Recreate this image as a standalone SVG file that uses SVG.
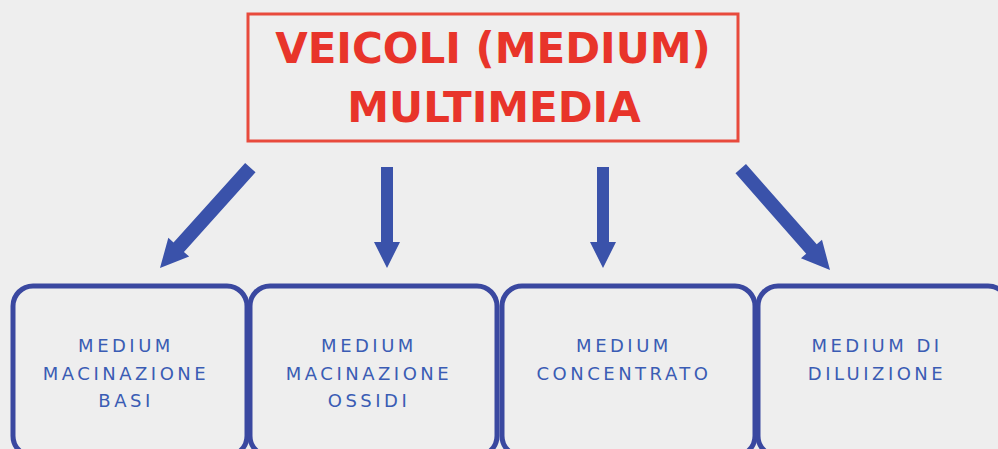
<svg xmlns="http://www.w3.org/2000/svg" width="998" height="449" viewBox="0 0 998 449">
  <style>
    .title { font-family: "DejaVu Sans", Verdana, sans-serif; font-weight: bold; font-size: 42px; fill: #e8342a; text-anchor: middle; }
    .box { fill: #eeeeee; stroke: #3a48a0; stroke-width: 5; }
    .label { font-family: "DejaVu Sans", sans-serif; font-size: 18px; fill: #3a5cb4; text-anchor: middle; letter-spacing: 3.5px; }
    .arrow { fill: #3a52aa; }
  </style>
  <defs>
    <!-- downward arrows, tip at origin, pointing +y -->
    <path id="arr" d="M -6 -101 L 6 -101 L 6 -26 L 13 -26 L 0 0 L -13 -26 L -6 -26 Z"/>
    <path id="arrLong" d="M -7 -135 L 7 -135 L 7 -28 L 14 -28 L 0 0 L -14 -28 L -7 -28 Z"/>
  </defs>
  <rect width="998" height="449" fill="#eeeeee"/>

  <g id="root">
    <rect x="248" y="14" width="490" height="127" fill="#eeeeee" stroke="#e84a3c" stroke-width="3"/>
    <text class="title" x="493" y="63">VEICOLI (MEDIUM)</text>
    <text class="title" x="494" y="122">MULTIMEDIA</text>
  </g>

  <g id="connectors" class="arrow">
    <use href="#arrLong" transform="translate(160,268) rotate(42)"/>
    <use href="#arr" transform="translate(387,268)"/>
    <use href="#arr" transform="translate(603,268)"/>
    <use href="#arrLong" transform="translate(830,270) rotate(-41.4)"/>
  </g>

  <g id="basi">
    <rect class="box" x="13" y="286" width="234" height="170" rx="20"/>
    <text class="label" x="126" y="352">MEDIUM</text>
    <text class="label" x="126" y="380">MACINAZIONE</text>
    <text class="label" x="126" y="407">BASI</text>
  </g>

  <g id="ossidi">
    <rect class="box" x="250" y="286" width="247" height="170" rx="20"/>
    <text class="label" x="369" y="352">MEDIUM</text>
    <text class="label" x="369" y="380">MACINAZIONE</text>
    <text class="label" x="369" y="407">OSSIDI</text>
  </g>

  <g id="concentrato">
    <rect class="box" x="502" y="286" width="253" height="170" rx="20"/>
    <text class="label" x="624" y="352">MEDIUM</text>
    <text class="label" x="624" y="380">CONCENTRATO</text>
  </g>

  <g id="diluizione">
    <rect class="box" x="758" y="286" width="250" height="170" rx="20"/>
    <text class="label" x="877" y="352">MEDIUM DI</text>
    <text class="label" x="877" y="380">DILUIZIONE</text>
  </g>
</svg>
